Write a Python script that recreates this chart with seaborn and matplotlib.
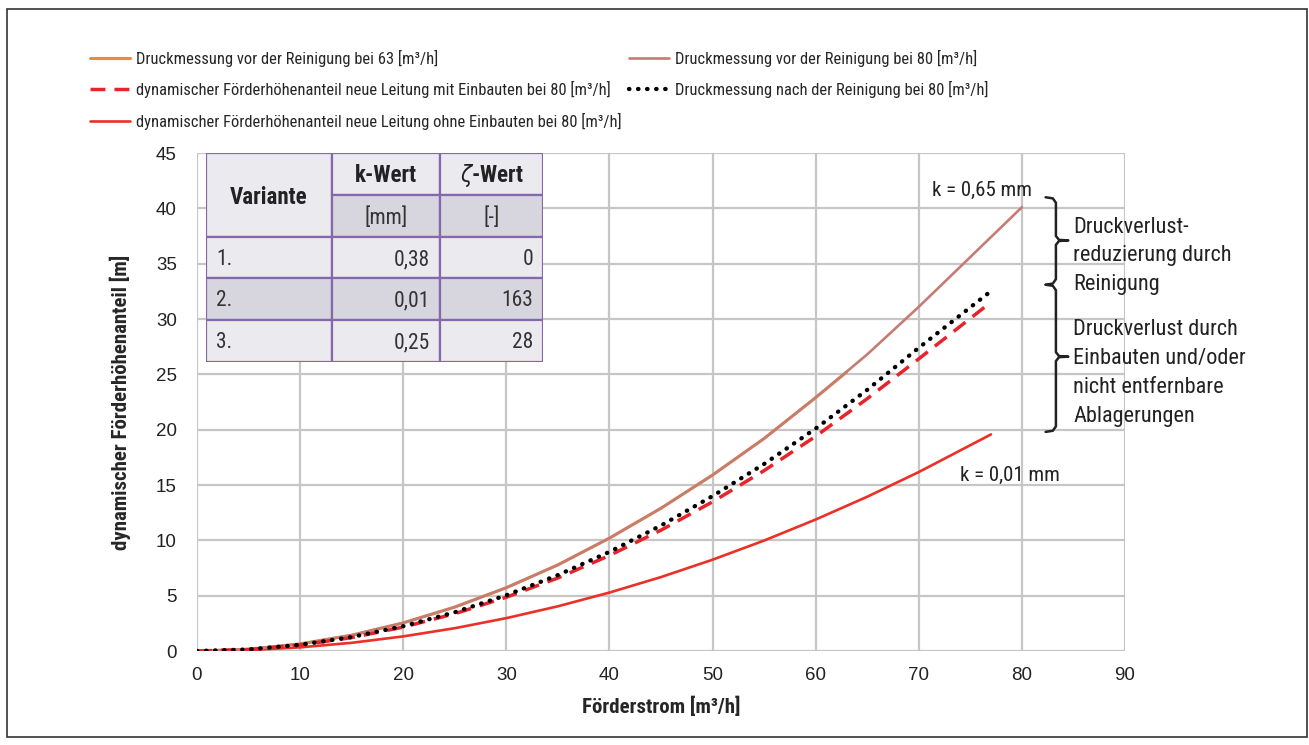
import numpy as np
import pandas as pd
import matplotlib.pyplot as plt
import matplotlib.patches as mpatches
from matplotlib import font_manager
import seaborn as sns

# values: Förderstrom [m3/h] -> dyn. Förderhöhenanteil [m]
q_vor80 = [0, 5, 10, 15, 20, 25, 30, 35, 40, 45, 50, 55, 60, 65, 70, 75, 80]
h_vor80 = [0, 0.16, 0.64, 1.43, 2.54, 3.97, 5.72, 7.78, 10.2, 12.9, 15.9, 19.2, 22.9, 26.8, 31.1, 35.6, 40.1]

q_vor63 = [0, 5, 10, 15, 20, 25, 30, 35, 40, 45, 50, 55, 60, 63]
h_vor63 = [0, 0.16, 0.64, 1.43, 2.54, 3.97, 5.72, 7.78, 10.2, 12.9, 15.9, 19.2, 22.9, 25.2]

q_nach80 = [0, 5, 10, 15, 20, 25, 30, 35, 40, 45, 50, 55, 60, 65, 70, 76.7]
h_nach80 = [0, 0.14, 0.56, 1.26, 2.24, 3.5, 5.04, 6.86, 8.96, 11.34, 14.0, 16.9, 20.1, 23.6, 27.4, 32.3]

q_mit = [0, 5, 10, 15, 20, 25, 30, 35, 40, 45, 50, 55, 60, 65, 70, 76.7]
h_mit = [0, 0.13, 0.54, 1.21, 2.16, 3.37, 4.86, 6.6, 8.63, 10.92, 13.48, 16.3, 19.4, 22.8, 26.4, 31.3]

q_ohne = [0, 5, 10, 15, 20, 25, 30, 35, 40, 45, 50, 55, 60, 65, 70, 77]
h_ohne = [0, 0.08, 0.33, 0.74, 1.32, 2.06, 2.97, 4.04, 5.28, 6.68, 8.25, 9.98, 11.88, 13.94, 16.17, 19.57]

lab_vor63 = "Druckmessung vor der Reinigung bei 63 [m³/h]"
lab_vor80 = "Druckmessung vor der Reinigung bei 80 [m³/h]"
lab_mit = "dynamischer Förderhöhenanteil neue Leitung mit Einbauten bei 80 [m³/h]"
lab_nach = "Druckmessung nach der Reinigung bei 80 [m³/h]"
lab_ohne = "dynamischer Förderhöhenanteil neue Leitung ohne Einbauten bei 80 [m³/h]"

x_ticks = list(range(0, 91, 10))
y_ticks = list(range(0, 46, 5))

tab_varianten = ["1.", "2.", "3."]
tab_k = ["0,38", "0,01", "0,25"]
tab_zeta = ["0", "163", "28"]

# look for a condensed sans font, the original uses a condensed Helvetica
narrow = None
prefer = ["Liberation Sans Narrow", "Roboto Condensed", "Noto Sans", "Open Sans", "Roboto", "Inter"]
found = {}
for f in font_manager.fontManager.ttflist:
    st = f.stretch
    cond = ("condensed" in st) if isinstance(st, str) else st < 500
    if cond or "narrow" in f.name.lower() or "condensed" in f.name.lower():
        found.setdefault(f.name, st)
for name in prefer:
    if name in found:
        narrow = name
        break

sns.set_style("whitegrid", {"grid.color": "#c6c6c6"})
if narrow:
    plt.rcParams['font.family'] = [narrow, 'Liberation Sans', 'DejaVu Sans']
    plt.rcParams['font.stretch'] = found[narrow] if isinstance(found[narrow], str) else "condensed"
    k = 1.0
else:
    plt.rcParams['font.family'] = ['Liberation Sans', 'DejaVu Sans']
    k = 0.8
plt.rcParams['mathtext.fontset'] = 'dejavusans'

W, H = 1309, 745
fig = plt.figure(figsize=(W / 100, H / 100), dpi=100)
ax = fig.add_axes([197 / W, 1 - 651 / H, 928 / W, 498 / H])

sns.lineplot(x=q_ohne, y=h_ohne, ax=ax, color="#ec3027", lw=1.9, label=lab_ohne)
h1 = ax.lines[-1]
sns.lineplot(x=q_vor63, y=h_vor63, ax=ax, color="#f08a3a", lw=2.2, label=lab_vor63)
h2 = ax.lines[-1]
sns.lineplot(x=q_vor80, y=h_vor80, ax=ax, color="#c47c73", lw=1.9, label=lab_vor80)
h3 = ax.lines[-1]
sns.lineplot(x=q_mit, y=h_mit, ax=ax, color="#e8232a", lw=2.5, label=lab_mit)
h4 = ax.lines[-1]
h4.set_linestyle((0, (4.3, 2.6)))
sns.lineplot(x=q_nach80, y=h_nach80, ax=ax, color="black", lw=3.1, label=lab_nach)
h5 = ax.lines[-1]
h5.set_linestyle((0, (0.1, 2.0)))
h5.set_dash_capstyle("round")
if ax.get_legend():
    ax.get_legend().remove()

ax.set_xlim(0, 90)
ax.set_ylim(0, 45)
ax.set_xticks(x_ticks)
ax.set_yticks(y_ticks)
ax.grid(True, lw=1.6)
for s in ax.spines.values():
    s.set_visible(False)
tick_font = dict(family=['Liberation Sans', 'DejaVu Sans'], size=13.5, stretch="normal")
ax.tick_params(axis="x", length=4.5, width=1.6, color="#c6c6c6", pad=7, labelcolor="#222222")
ax.tick_params(axis="y", length=8.5, width=1.6, color="#c6c6c6", pad=6, labelcolor="#222222")
for t in ax.get_xticklabels() + ax.get_yticklabels():
    t.set_fontproperties(font_manager.FontProperties(**tick_font))
ax.set_xlabel("Förderstrom [m³/h]", fontsize=15 * k, fontweight="bold", labelpad=9)
ax.set_ylabel("dynamischer Förderhöhenanteil [m]", fontsize=15 * k, fontweight="bold", labelpad=18)

# annotations on the right
ax.text(81.0, 41.6, "k = 0,65 mm", ha="right", va="center", fontsize=15 * k, color="#222222")
ax.text(83.7, 15.9, "k = 0,01 mm", ha="right", va="center", fontsize=15 * k, color="#222222")


def brace(y_top, y_bot, y_tip):
    xs = [82.3, 83.0, 83.3, 83.3, 83.6, 84.5, 83.6, 83.3, 83.3, 83.0, 82.3]
    ys = [y_top, y_top - 0.1, y_top - 0.5, y_tip + 0.4, y_tip + 0.05, y_tip,
          y_tip - 0.05, y_tip - 0.4, y_bot + 0.5, y_bot + 0.1, y_bot]
    ax.plot(xs, ys, color="#222222", lw=1.8, clip_on=False, solid_joinstyle="round")


brace(41.0, 33.1, 37.1)
brace(33.1, 19.8, 26.6)
ax.text(85.0, 35.7, "Druckverlust-\nreduzierung durch\nReinigung", ha="left", va="center",
        fontsize=16 * k, color="#222222", linespacing=1.47 / k)
ax.text(85.0, 25.1, "Druckverlust durch\nEinbauten und/oder\nnicht entfernbare\nAblagerungen",
        ha="left", va="center", fontsize=16 * k, color="#222222", linespacing=1.5 / k)

# legends (two blocks)
leg_kw = dict(loc="upper left", frameon=False, fontsize=11.9 * k, handletextpad=0.36,
              labelspacing=0.88 / k, borderpad=0, borderaxespad=0)
fig.legend([h2, h4, h1], [lab_vor63, lab_mit, lab_ohne], bbox_to_anchor=(90 / W, 1 - 49.5 / H),
           handlelength=2.42 / k, **leg_kw)
fig.legend([h3, h5], [lab_vor80, lab_nach], bbox_to_anchor=(629 / W, 1 - 49.5 / H),
           handlelength=2.45 / k, **leg_kw)

# parameter table
tab = fig.add_axes([206 / W, 1 - 362 / H, 337 / W, 209 / H])
tab.set_xlim(0, 337)
tab.set_ylim(209, 0)
tab.axis("off")
cols = [0, 126, 234, 337]
rows = [0, 42, 84, 125, 167, 209]
light, dark, edge = "#ebeaef", "#d7d5de", "#8468aa"


def cell(x0, x1, y0, y1, fill):
    tab.add_patch(mpatches.Rectangle((x0, y0), x1 - x0, y1 - y0, facecolor=fill,
                                     edgecolor=edge, lw=1.6))


cell(cols[0], cols[1], rows[0], rows[2], light)
cell(cols[1], cols[2], rows[0], rows[1], light)
cell(cols[2], cols[3], rows[0], rows[1], light)
cell(cols[1], cols[2], rows[1], rows[2], dark)
cell(cols[2], cols[3], rows[1], rows[2], dark)
hdr = dict(ha="center", va="center", fontsize=16.5 * k, fontweight="bold", color="#222222")
tab.text((cols[0] + cols[1]) / 2, rows[1] + 3, "Variante", **hdr)
tab.text((cols[1] + cols[2]) / 2, (rows[0] + rows[1]) / 2 + 2, "k-Wert", **hdr)
tab.text((cols[2] + cols[3]) / 2, (rows[0] + rows[1]) / 2 + 2, r"$\zeta$-Wert", **hdr)
tab.text((cols[1] + cols[2]) / 2, (rows[1] + rows[2]) / 2 + 2, "[mm]", ha="center", va="center", fontsize=15.5 * k, color="#333333")
tab.text((cols[2] + cols[3]) / 2, (rows[1] + rows[2]) / 2 + 2, "[-]", ha="center", va="center", fontsize=15.5 * k, color="#333333")
for i, (v, kw, z) in enumerate(zip(tab_varianten, tab_k, tab_zeta)):
    fill = dark if i == 1 else light
    y0, y1 = rows[2 + i], rows[3 + i]
    for c in range(3):
        cell(cols[c], cols[c + 1], y0, y1, fill)
    ym = (y0 + y1) / 2 + 2
    tab.text(cols[0] + 10, ym, v, ha="left", va="center", fontsize=15.5 * k, color="#333333")
    tab.text(cols[2] - 10, ym, kw, ha="right", va="center", fontsize=15.5 * k, color="#333333")
    tab.text(cols[3] - 10, ym, z, ha="right", va="center", fontsize=15.5 * k, color="#333333")

# outer frame
fig.patches.append(mpatches.Rectangle((7 / W, 1 - 737 / H), 1300 / W, 728 / H, transform=fig.transFigure,
                                      fill=False, edgecolor="#333333", lw=1.2))

fig.savefig("out.png", dpi=100)
